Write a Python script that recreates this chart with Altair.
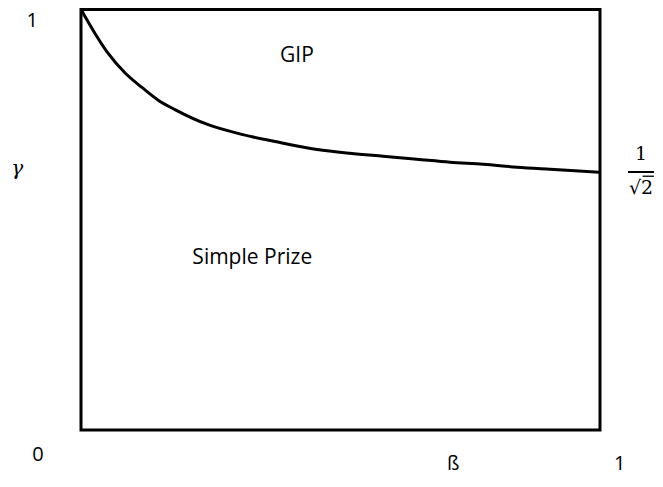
import altair as alt
import pandas as pd

# curve gamma(beta)
beta = [0.0, 0.027, 0.052, 0.085, 0.118, 0.148, 0.181, 0.245, 0.310, 0.374,
        0.455, 0.518, 0.582, 0.647, 0.711, 0.775, 0.840, 0.904, 1.0]
gamma = [1.0, 0.943, 0.896, 0.849, 0.814, 0.785, 0.762, 0.726, 0.703, 0.686,
         0.667, 0.658, 0.651, 0.644, 0.637, 0.632, 0.625, 0.620, 0.613]

# region labels
region_text = ["GIP", "Simple Prize"]
region_beta = [0.416, 0.330]
region_gamma = [0.89, 0.41]

# axis-like labels
top_text = ["1"]
top_beta = [-0.094]
top_gamma = [0.972]
low_text = ["0"]
low_beta = [-0.083]
low_gamma = [-0.06]
bottom_text = ["ß", "1"]
bottom_beta = [0.717, 1.038]
bottom_gamma = [-0.105, -0.105]

# gamma symbol and 1/sqrt(2) label
greek_text = ["γ"]
greek_beta = [-0.123]
greek_gamma = [0.62]
frac_text = ["1", "√2"]
frac_beta = [1.079, 1.079]
frac_gamma = [0.656, 0.575]
bar_beta = [1.054, 1.104]
bar_gamma = [0.6135]
over_beta = [1.082, 1.104]
over_gamma = [0.6035]

W, H = 647, 470
xs = alt.Scale(domain=[-0.14066, 1.10597], nice=False, zero=False)
ys = alt.Scale(domain=[-0.11415, 1.003567], nice=False, zero=False)

X = lambda f: alt.X(f, type="quantitative", scale=xs, axis=None)
Y = lambda f: alt.Y(f, type="quantitative", scale=ys, axis=None)

curve_df = pd.DataFrame({"b": beta, "g": gamma})
box_df = pd.DataFrame({"b": [0.0], "b2": [1.0], "g": [0.0], "g2": [1.0]})
reg_df = pd.DataFrame({"t": region_text, "b": region_beta, "g": region_gamma})
top_df = pd.DataFrame({"t": top_text, "b": top_beta, "g": top_gamma})
low_df = pd.DataFrame({"t": low_text, "b": low_beta, "g": low_gamma})
bottom_df = pd.DataFrame({"t": bottom_text, "b": bottom_beta, "g": bottom_gamma})
greek_df = pd.DataFrame({"t": greek_text, "b": greek_beta, "g": greek_gamma})
frac_df = pd.DataFrame({"t": frac_text, "b": frac_beta, "g": frac_gamma})
bar_df = pd.DataFrame({"b": [bar_beta[0], over_beta[0]], "b2": [bar_beta[1], over_beta[1]],
                       "g": [bar_gamma[0], over_gamma[0]], "w": [2.0, 1.3]})

box = alt.Chart(box_df).mark_rect(fillOpacity=0, stroke="black", strokeWidth=3).encode(
    x=X("b"), x2="b2", y=Y("g"), y2="g2")

curve = alt.Chart(curve_df).mark_line(color="black", strokeWidth=3, interpolate="monotone").encode(
    x=X("b"), y=Y("g"))

sans = dict(font="Open Sans", fontSize=21, color="black", align="center", baseline="middle")
tick_style = dict(font="Open Sans", fontSize=20, color="black", align="center")

regions = alt.Chart(reg_df).mark_text(**sans).encode(x=X("b"), y=Y("g"), text="t:N")
top_lab = alt.Chart(top_df).mark_text(baseline="middle", **tick_style).encode(
    x=X("b"), y=Y("g"), text="t:N")
low_lab = alt.Chart(low_df).mark_text(baseline="middle", **tick_style).encode(
    x=X("b"), y=Y("g"), text="t:N")
bottom_lab = alt.Chart(bottom_df).mark_text(baseline="bottom", **tick_style).encode(
    x=X("b"), y=Y("g"), text="t:N")

gam = alt.Chart(greek_df).mark_text(
    font="DejaVu Serif", fontStyle="italic", fontSize=20, color="black",
    align="center", baseline="middle").encode(x=X("b"), y=Y("g"), text="t:N")

frac = alt.Chart(frac_df).mark_text(
    font="DejaVu Serif", fontSize=19, color="black", align="center", baseline="middle"
).encode(x=X("b"), y=Y("g"), text="t:N")

frac_bar = alt.Chart(bar_df).mark_rule(color="black").encode(
    x=X("b"), x2="b2", y=Y("g"),
    strokeWidth=alt.StrokeWidth("w:Q", scale=None, legend=None))

chart = alt.layer(box, curve, regions, top_lab, low_lab, bottom_lab, gam, frac, frac_bar).properties(
    width=W, height=H, padding=0, autosize=alt.AutoSizeParams(type="none"),
    background="white",
).configure_view(strokeWidth=0)

chart.save("out.html", embed_options={"renderer": "svg", "actions": False})
